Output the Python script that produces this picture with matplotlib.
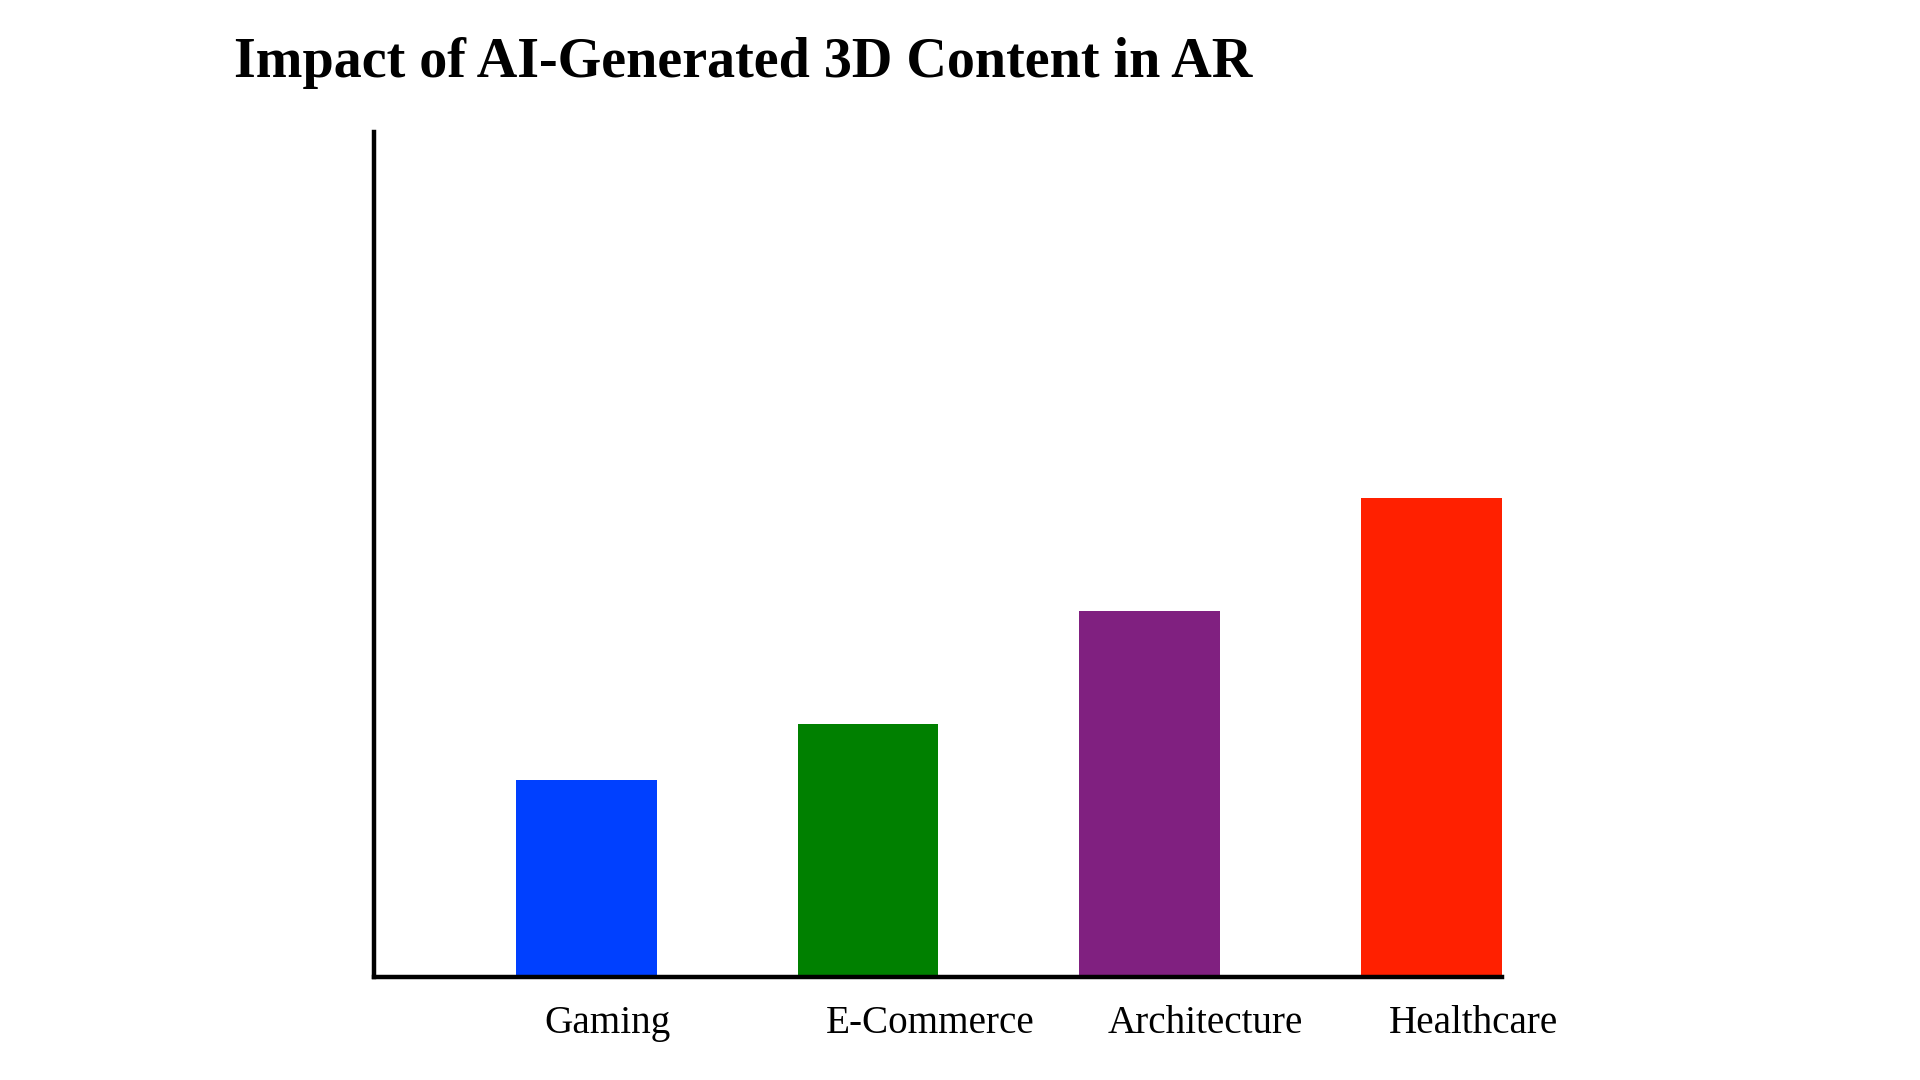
import matplotlib
matplotlib.use("Agg")
import matplotlib.pyplot as plt
import matplotlib.transforms as mtransforms

categories = ["Gaming", "E-Commerce", "Architecture", "Healthcare"]
values = [35, 45, 65, 85]
colors = ["#0040FF", "#008000", "#802080", "#FF2000"]

fig = plt.figure(figsize=(19.2, 10.8), dpi=100)
ax = fig.add_axes([374/1920, 1 - 977/1080, (1501.6 - 374)/1920, (977 - 132)/1080])

x = list(range(len(categories)))
ax.bar(x, values, width=0.5, color=colors, zorder=1)

ax.set_xlim(-0.754, 3.25)
ax.set_ylim(0, 150)

for s in ["top", "right"]:
    ax.spines[s].set_visible(False)
for s in ["left", "bottom"]:
    ax.spines[s].set_linewidth(3.2)
    ax.spines[s].set_color("black")
    ax.spines[s].set_zorder(3)
ax.set_xticks([])
ax.set_yticks([])

trans = mtransforms.blended_transform_factory(ax.transData, fig.transFigure)
for i, c in enumerate(categories):
    ax.text(i - 0.15, 1 - 1033/1080, c, transform=trans,
            ha="left", va="baseline", fontsize=28.2, family="Liberation Serif", color="black")

fig.text(234/1920, 1 - 77/1080, "Impact of AI-Generated 3D Content in AR",
         ha="left", va="baseline", fontsize=40.4, fontweight="bold",
         family="Liberation Serif", color="black")

fig.savefig("out.png", dpi=100, facecolor="white")
